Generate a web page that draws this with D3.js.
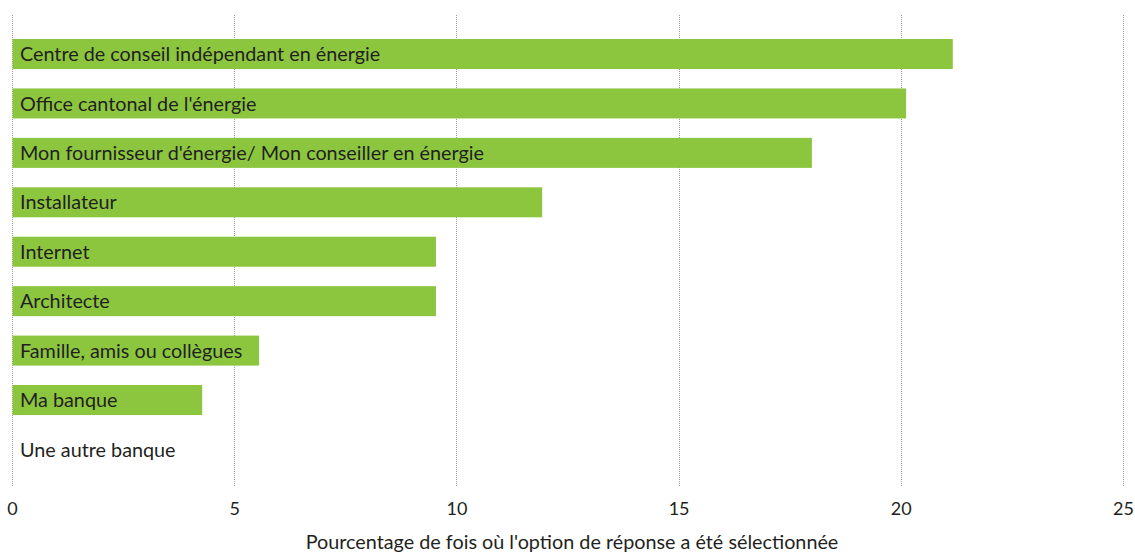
<!DOCTYPE html>
<html>
<head>
<meta charset="utf-8">
<script src="https://cdn.jsdelivr.net/npm/d3@7"></script>
<style>
  body { margin: 0; background: #fff; }
  svg text { font-family: "Lato", "Open Sans", sans-serif; fill: #231f20; }
  .grid line { stroke: #9a9a9a; stroke-dasharray: 1,1; }
</style>
</head>
<body>
<svg class="wrapper" width="1135" height="552"></svg>
<script>
const categories = [
    "Centre de conseil indépendant en énergie",
    "Office cantonal de l'énergie",
    "Mon fournisseur d'énergie/ Mon conseiller en énergie",
    "Installateur",
    "Internet",
    "Architecte",
    "Famille, amis ou collègues",
    "Ma banque",
    "Une autre banque"
];
const values = [21.17, 20.12, 18.0, 11.93, 9.54, 9.54, 5.56, 4.28, 0];
const tick_values = [0, 5, 10, 15, 20, 25];
const axis_title = "Pourcentage de fois où l'option de réponse a été sélectionnée";

const svg = d3.select(".wrapper");

const xScale = d3.scaleLinear()
    .domain([0, 25])
    .range([12, 1123]);

// step ~49.4px, bars 30px high
const yScale = d3.scaleBand()
    .domain(categories)
    .range([29.3, 29.3 + 9 * 49.43])
    .paddingInner(0.393)
    .paddingOuter(0.1965);

// dotted vertical grid
svg.append("g")
    .classed("grid", true)
    .selectAll("line")
    .data(tick_values)
    .enter()
    .append("line")
    .attr("x1", d => Math.round(xScale(d)) + 0.5)
    .attr("x2", d => Math.round(xScale(d)) + 0.5)
    .attr("y1", 15)
    .attr("y2", 486);

svg.append("g")
    .selectAll("rect")
    .data(values)
    .enter()
    .append("rect")
    .attr("fill", "#8cc63f")
    .attr("x", xScale(0) + 0.5)
    .attr("y", (d, i) => yScale(categories[i]))
    .attr("width", d => Math.max(0, xScale(d) - xScale(0) - 0.5))
    .attr("height", yScale.bandwidth());

svg.append("g")
    .selectAll("text")
    .data(categories)
    .enter()
    .append("text")
    .attr("x", 20)
    .attr("y", d => yScale(d) + yScale.bandwidth() / 2)
    .attr("dy", "0.36em")
    .style("font-size", "19.8px")
    .text(d => d);

// x axis, no domain line or ticks marks
const xAxis = d3.axisBottom(xScale)
    .tickValues(tick_values)
    .tickSize(0)
    .tickPadding(0);

svg.append("g")
    .attr("transform", "translate(0, 502)")
    .call(xAxis)
    .call(g => g.select(".domain").remove())
    .selectAll("text")
    .style("font-size", "18px")
    .attr("fill", "#231f20")
    .attr("font-family", "Lato, sans-serif");

svg.append("text")
    .attr("x", 572)
    .attr("y", 542)
    .attr("dy", "0.36em")
    .attr("text-anchor", "middle")
    .style("font-size", "19.8px")
    .text(axis_title);
</script>
</body>
</html>
